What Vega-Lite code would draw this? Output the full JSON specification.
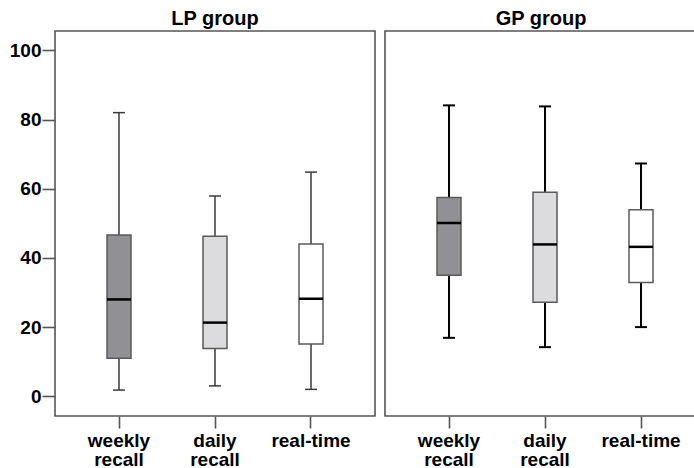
{
  "$schema": "https://vega.github.io/schema/vega-lite/v6.json",
  "padding": {"left": 8, "top": 8, "right": 0, "bottom": 0},
  "spacing": 8,
  "data": {"values": [
    {"group": "LP group", "measure": "weekly recall", "min": 1.8, "q1": 11.0, "median": 28.0, "q3": 46.6, "max": 82.0},
    {"group": "LP group", "measure": "daily recall", "min": 3.0, "q1": 13.8, "median": 21.3, "q3": 46.3, "max": 57.9},
    {"group": "LP group", "measure": "real-time", "min": 2.0, "q1": 15.1, "median": 28.2, "q3": 44.0, "max": 64.8},
    {"group": "GP group", "measure": "weekly recall", "min": 16.9, "q1": 35.0, "median": 50.1, "q3": 57.5, "max": 84.1},
    {"group": "GP group", "measure": "daily recall", "min": 14.2, "q1": 27.2, "median": 43.9, "q3": 59.0, "max": 83.8},
    {"group": "GP group", "measure": "real-time", "min": 20.0, "q1": 32.9, "median": 43.2, "q3": 53.9, "max": 67.3}
  ]},
  "config": {
    "font": "Liberation Sans",
    "view": {"stroke": "#555555", "strokeWidth": 1.6},
    "title": {"font": "Liberation Sans", "fontSize": 20, "fontWeight": "bold", "color": "#000000", "baseline": "alphabetic", "offset": 2, "anchor": "middle"},
    "axis": {"domain": false, "grid": false, "labelFont": "Liberation Sans", "labelFontSize": 19, "labelFontWeight": "bold", "labelColor": "#000000", "tickColor": "#555555", "tickWidth": 1.6, "title": null},
    "tick": {"opacity": 1},
    "bar": {"opacity": 1}
  },
  "hconcat": [
    {
      "title": "LP group",
      "width": 320,
      "height": 385,
      "transform": [{"filter": "datum.group === 'LP group'"}],
      "encoding": {
        "x": {"field": "measure", "type": "nominal", "sort": ["weekly recall", "daily recall", "real-time"],
              "scale": {"paddingInner": 0, "paddingOuter": 0.1667, "align": 0.5},
              "axis": {"labelAngle": 0, "tickSize": 12, "labelPadding": 3, "labelLineHeight": 19, "labelExpr": "split(datum.label, ' ')", "labelBaseline": "top"}}
      },
      "layer": [
        {"mark": {"type": "rule", "color": "#3a3a3a", "strokeWidth": 1.5},
         "encoding": {"y": {"field": "min", "type": "quantitative", "scale": {"domain": [-5.7, 105.6], "nice": false, "zero": false},
                            "axis": {"values": [0, 20, 40, 60, 80, 100], "tickSize": 13, "labelPadding": 1}},
                      "y2": {"field": "max"}}},
        {"mark": {"type": "tick", "color": "#3a3a3a", "size": 12, "thickness": 1.5, "opacity": 1}, "encoding": {"y": {"field": "min", "type": "quantitative"}}},
        {"mark": {"type": "tick", "color": "#3a3a3a", "size": 12, "thickness": 1.5, "opacity": 1}, "encoding": {"y": {"field": "max", "type": "quantitative"}}},
        {"mark": {"type": "bar", "size": 24, "stroke": "#5a5a5a", "strokeWidth": 1.5, "opacity": 1},
         "encoding": {"y": {"field": "q1", "type": "quantitative"}, "y2": {"field": "q3"},
                      "fill": {"field": "measure", "type": "nominal", "scale": {"domain": ["weekly recall", "daily recall", "real-time"], "range": ["#909095", "#dcdcde", "#ffffff"]}, "legend": null}}},
        {"mark": {"type": "tick", "color": "#000000", "size": 24, "thickness": 2.5, "opacity": 1}, "encoding": {"y": {"field": "median", "type": "quantitative"}}}
      ]
    },
    {
      "title": "GP group",
      "width": 312,
      "height": 385,
      "transform": [{"filter": "datum.group === 'GP group'"}],
      "encoding": {
        "x": {"field": "measure", "type": "nominal", "sort": ["weekly recall", "daily recall", "real-time"],
              "scale": {"paddingInner": 0, "paddingOuter": 0.125, "align": 0.667},
              "axis": {"labelAngle": 0, "tickSize": 12, "labelPadding": 3, "labelLineHeight": 19, "labelExpr": "split(datum.label, ' ')", "labelBaseline": "top"}}
      },
      "layer": [
        {"mark": {"type": "rule", "color": "#000000", "strokeWidth": 2},
         "encoding": {"y": {"field": "min", "type": "quantitative", "scale": {"domain": [-5.7, 105.6], "nice": false, "zero": false}, "axis": null},
                      "y2": {"field": "max"}}},
        {"mark": {"type": "tick", "color": "#000000", "size": 12, "thickness": 2, "opacity": 1}, "encoding": {"y": {"field": "min", "type": "quantitative"}}},
        {"mark": {"type": "tick", "color": "#000000", "size": 12, "thickness": 2, "opacity": 1}, "encoding": {"y": {"field": "max", "type": "quantitative"}}},
        {"mark": {"type": "bar", "size": 24, "stroke": "#5a5a5a", "strokeWidth": 1.5, "opacity": 1},
         "encoding": {"y": {"field": "q1", "type": "quantitative"}, "y2": {"field": "q3"},
                      "fill": {"field": "measure", "type": "nominal", "scale": {"domain": ["weekly recall", "daily recall", "real-time"], "range": ["#909095", "#dcdcde", "#ffffff"]}, "legend": null}}},
        {"mark": {"type": "tick", "color": "#000000", "size": 24, "thickness": 2.5, "opacity": 1}, "encoding": {"y": {"field": "median", "type": "quantitative"}}}
      ]
    }
  ]
}
